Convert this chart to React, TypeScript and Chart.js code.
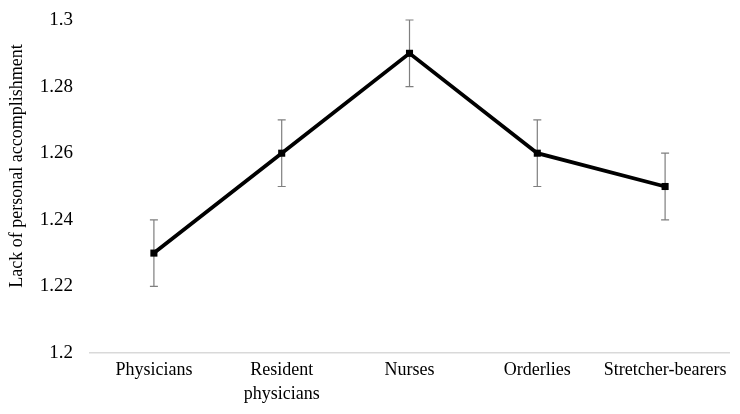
import React, { useEffect, useRef } from "react";
import { Chart, registerables } from "chart.js";

Chart.register(...registerables);

const categories: (string | string[])[] = [
  "Physicians",
  ["Resident", "physicians"],
  "Nurses",
  "Orderlies",
  "Stretcher-bearers",
];
const values = [1.23, 1.26, 1.29, 1.26, 1.25];
const errors = [0.01, 0.01, 0.01, 0.01, 0.01];
const yTicks = [1.2, 1.22, 1.24, 1.26, 1.28, 1.3];
const yTitle = "Lack of personal accomplishment";

const FONT = "'Liberation Serif', 'Times New Roman', serif";

const errorBars = {
  id: "errorBars",
  beforeDatasetsDraw(chart: any) {
    const ctx = chart.ctx;
    const meta = chart.getDatasetMeta(0);
    const y = chart.scales.y;
    ctx.save();
    ctx.strokeStyle = "#7f7f7f";
    ctx.lineWidth = 1.2;
    meta.data.forEach((pt: any, i: number) => {
      const x = pt.x;
      const top = y.getPixelForValue(values[i] + errors[i]);
      const bot = y.getPixelForValue(values[i] - errors[i]);
      ctx.beginPath();
      ctx.moveTo(x, top);
      ctx.lineTo(x, bot);
      ctx.moveTo(x - 4, top);
      ctx.lineTo(x + 4, top);
      ctx.moveTo(x - 4, bot);
      ctx.lineTo(x + 4, bot);
      ctx.stroke();
    });
    ctx.restore();
  },
};

const yTitlePlugin = {
  id: "yTitlePlugin",
  afterDraw(chart: any) {
    const ctx = chart.ctx;
    ctx.save();
    ctx.translate(17, 166);
    ctx.rotate(-Math.PI / 2);
    ctx.fillStyle = "#000000";
    ctx.font = `18px ${FONT}`;
    ctx.textAlign = "center";
    ctx.textBaseline = "middle";
    ctx.fillText(yTitle, 0, 0);
    ctx.restore();
  },
};

export default function App() {
  const ref = useRef<HTMLCanvasElement>(null);
  useEffect(() => {
    document.body.style.margin = "0";
    const chart = new Chart(ref.current!, {
      type: "line",
      data: {
        labels: categories,
        datasets: [
          {
            data: values,
            borderColor: "#000000",
            backgroundColor: "#000000",
            borderWidth: 3.8,
            pointStyle: "rect",
            pointRadius: 5,
            pointBorderWidth: 0,
            pointBackgroundColor: "#000000",
            tension: 0,
          },
        ],
      },
      options: {
        animation: false,
        responsive: false,
        devicePixelRatio: 1,
        layout: { padding: { left: 0, right: 11, top: 20, bottom: 0 } },
        plugins: {
          legend: { display: false },
          tooltip: { enabled: false },
        },
        scales: {
          x: {
            offset: true,
            grid: { display: false, drawTicks: false },
            border: { display: true, color: "#d9d9d9", width: 1.5 },
            ticks: {
              color: "#000000",
              font: { family: FONT, size: 18, lineHeight: 1.3 },
              padding: 6,
              maxRotation: 0,
              autoSkip: false,
            },
            afterFit: (s: any) => {
              s.height = 61;
              s.paddingLeft = 0;
              s.paddingRight = 0;
            },
          },
          y: {
            min: 1.2,
            max: 1.3,
            grid: { display: false, drawTicks: false },
            border: { display: false },
            afterBuildTicks: (s: any) => {
              s.ticks = yTicks.map((v) => ({ value: v }));
            },
            ticks: {
              color: "#000000",
              font: { family: FONT, size: 19 },
              padding: 17,
              callback: (v: any) => String(Number(v)),
            },
            afterFit: (s: any) => {
              s.width = 90;
              s.paddingTop = 0;
              s.paddingBottom = 0;
            },
          },
        },
      },
      plugins: [errorBars, yTitlePlugin],
    });
    return () => chart.destroy();
  }, []);
  return (
    <div style={{ width: 740, height: 414 }}>
      <canvas ref={ref} width={740} height={414} style={{ display: "block" }} />
    </div>
  );
}
